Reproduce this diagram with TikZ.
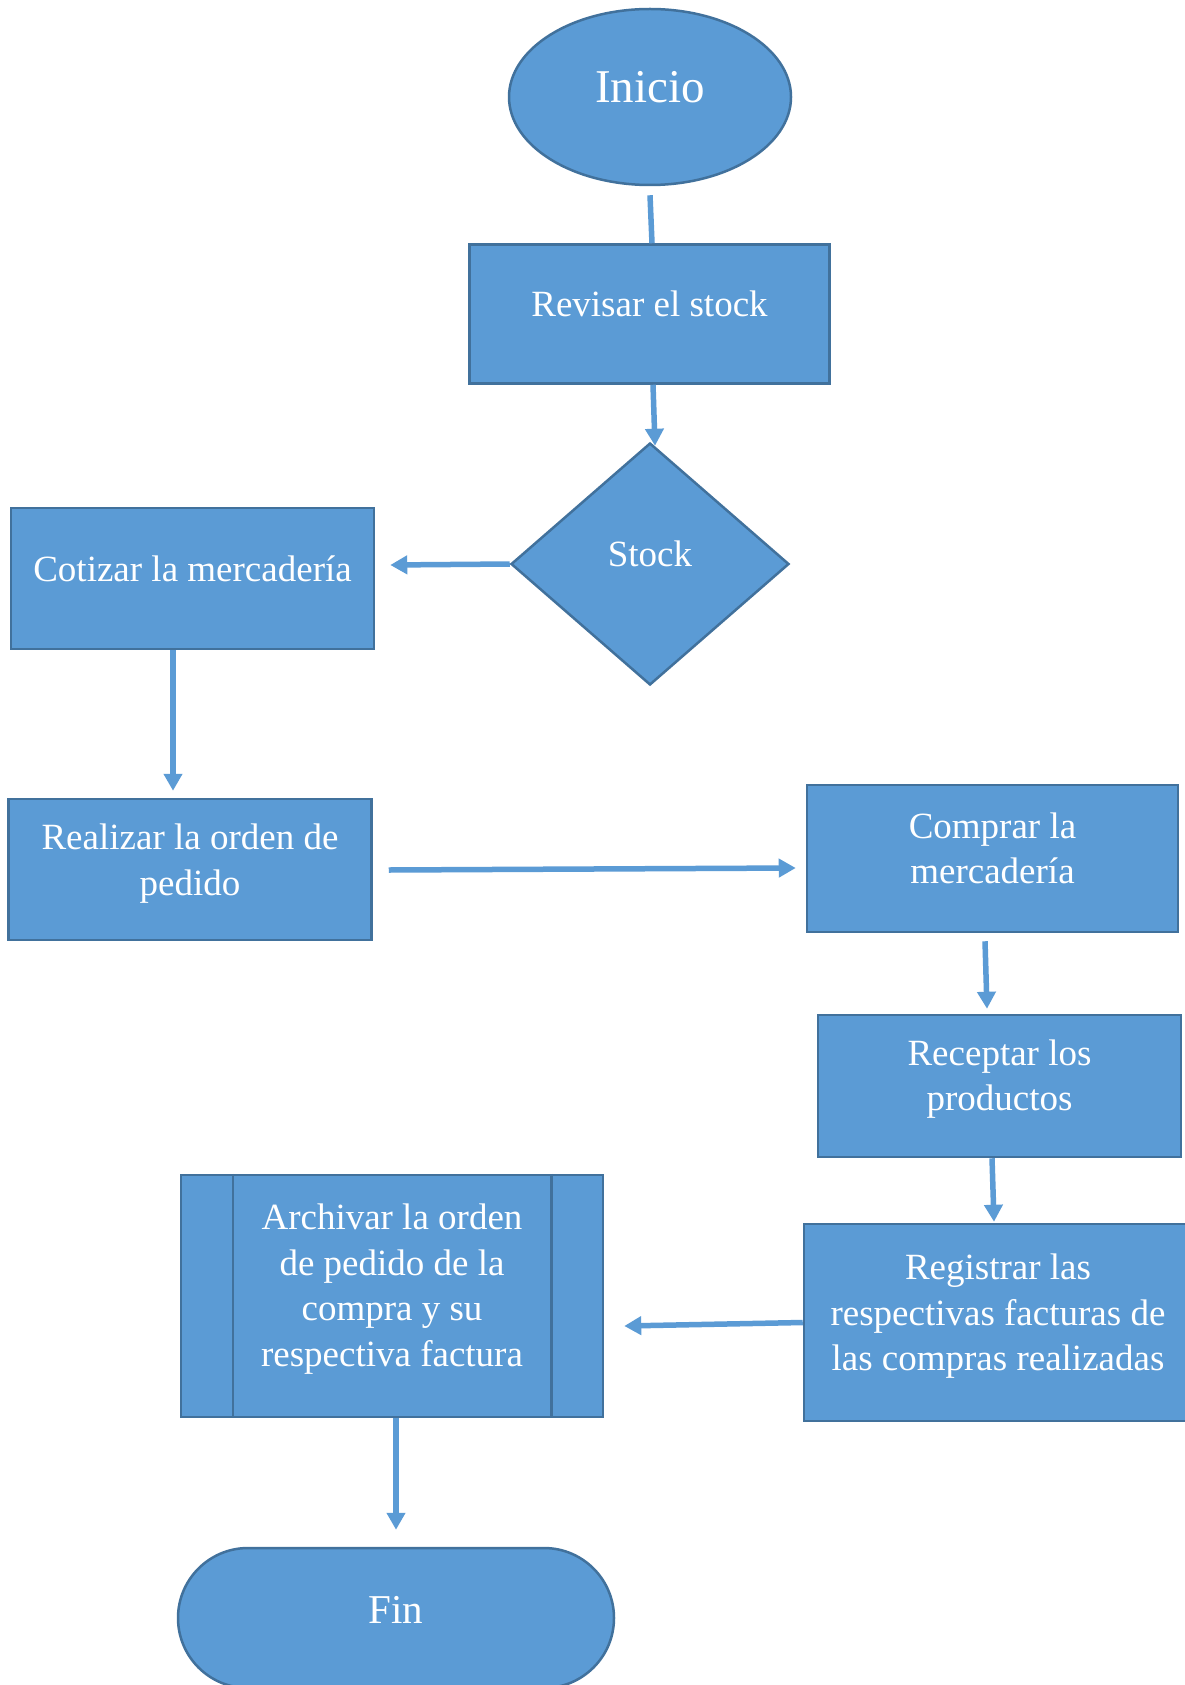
\documentclass[tikz,border=0pt]{standalone}
\usepackage{fontspec}
\setmainfont{Liberation Serif}
\usetikzlibrary{shapes.geometric,shapes.misc,arrows.meta,calc}
\definecolor{fillblue}{HTML}{5B9BD5}
\definecolor{edgeblue}{HTML}{41719C}
\tikzset{
  shp/.style={draw=edgeblue, line width=2.5pt, fill=fillblue, inner sep=0pt},
  boxs/.style={shp, rectangle},
  txt/.style={text=white, align=center, font=\fontsize{37}{45.5}\selectfont, yshift=10pt},
  conn/.style={draw=fillblue, line width=5.5pt},
  arr/.style={conn, -{Triangle[length=17pt,width=18pt]}},
}
\begin{document}
\begin{tikzpicture}[x=1pt,y=-1pt]
\useasboundingbox[fill=white] (0,0) rectangle (1184,1685);

\node[shp, ellipse, minimum width=282pt, minimum height=176pt,
  label={[txt, font=\fontsize{47}{50}\selectfont]center:Inicio}] (ini) at (650,97) {};
\node[boxs, minimum width=360pt, minimum height=139pt,
  label={[txt]center:Revisar el stock}] (rev) at (649.5,314) {};
\node[shp, diamond, minimum width=278pt, minimum height=242pt,
  label={[txt]center:Stock}] (stock) at (650,564) {};
\node[boxs, minimum width=363pt, minimum height=141pt,
  label={[txt]center:Cotizar la mercadería}] (cot) at (192.5,578.5) {};
\node[boxs, minimum width=363pt, minimum height=141pt,
  label={[txt, yshift=-4pt]center:{Realizar la orden de\\pedido}}] (real) at (190,869.5) {};
\node[boxs, minimum width=371pt, minimum height=147pt,
  label={[txt]center:{Comprar la\\mercadería}}] (comp) at (992.5,858.5) {};
\node[boxs, minimum width=363pt, minimum height=142pt,
  label={[txt, yshift=-3pt]center:{Receptar los\\productos}}] (rec) at (999.5,1086) {};
\node[boxs, minimum width=388pt, minimum height=197pt,
  label={[txt, yshift=-4pt]center:{Registrar las\\respectivas facturas de\\las compras realizadas}}] (reg) at (998,1322.5) {};
\node[boxs, minimum width=422pt, minimum height=242pt,
  label={[txt, yshift=-3pt]center:{Archivar la orden\\de pedido de la\\compra y su\\respectiva factura}}] (arch) at (392,1296) {};
\draw[draw=edgeblue, line width=2.5pt] ($(arch.north west)+(53,0)$) -- ($(arch.south west)+(53,0)$);
\draw[draw=edgeblue, line width=2.5pt] ($(arch.north east)+(-53,0)$) -- ($(arch.south east)+(-53,0)$);
\node[shp, rounded rectangle, minimum width=436pt, minimum height=140pt,
  label={[txt, yshift=-2pt, font=\fontsize{41}{45}\selectfont]center:Fin}] (fin) at (396,1618) {};

\draw[conn] ($(ini.south)+(0,9)$) -- ($(rev.north)+(2.5,0)$);
\draw[arr] ($(rev.south)+(3.5,0)$) -- ($(stock.north)+(5,4)$);
\draw[arr] (stock.west) -- ($(cot.east)+(15,-13.5)$);
\draw[arr] ($(cot.south)+(-19.5,0)$) -- ($(real.north)+(-17,-7)$);
\draw[arr] ($(real.east)+(16,0.5)$) -- ($(comp.west)+(-10,9.5)$);
\draw[arr] ($(comp.south)+(-7.5,8)$) -- ($(rec.north)+(-12.5,-5)$);
\draw[arr] ($(rec.south)+(-7.5,0)$) -- ($(reg.north)+(-4,-1)$);
\draw[arr] (reg.west) -- ($(arch.east)+(20,30)$);
\draw[arr] ($(arch.south)+(4,0)$) -- ($(fin.north)+(0,-17)$);
\end{tikzpicture}
\end{document}
